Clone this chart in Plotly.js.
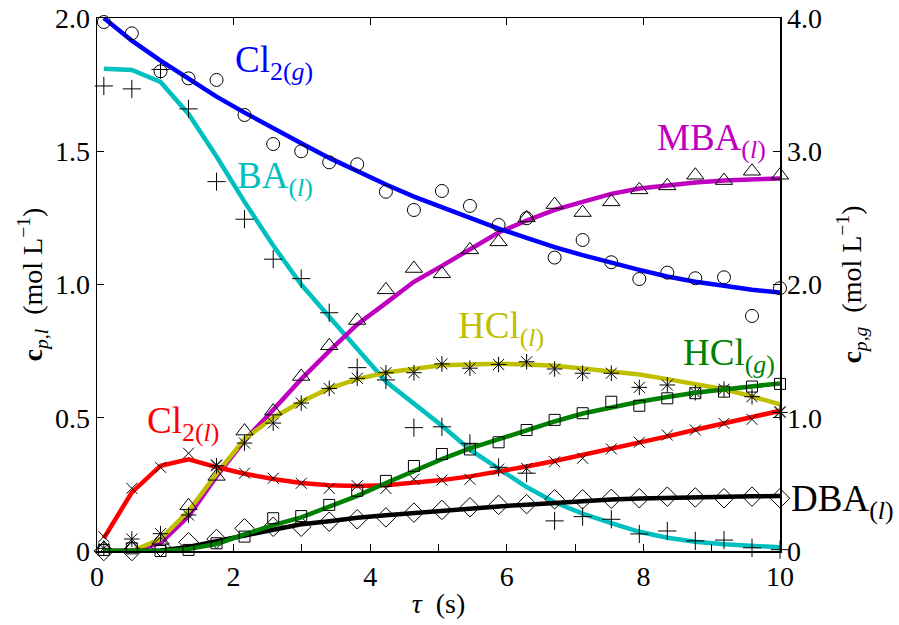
<!DOCTYPE html>
<html>
<head>
<meta charset="utf-8">
<script src="https://cdn.plot.ly/plotly-3.0.1.min.js"></script>
<style>html,body{margin:0;padding:0;background:#fff;}#chart{width:899px;height:625px;}</style>
</head>
<body>
<div id="chart"></div>
<script>
// residence time grid (s)
const tau = [0.10, 0.51, 0.93, 1.34, 1.75, 2.16, 2.58, 2.99, 3.40, 3.81, 4.23, 4.64, 5.05,
             5.46, 5.88, 6.29, 6.70, 7.11, 7.53, 7.94, 8.35, 8.76, 9.18, 9.59, 10.0];

// ---- model curves ----
// gas phase (right axis, mol/L)
const cl2g_model = [4.00, 3.83, 3.68, 3.54, 3.41, 3.29, 3.17, 3.06, 2.95, 2.85, 2.75, 2.66, 2.58,
                    2.50, 2.42, 2.35, 2.28, 2.22, 2.16, 2.11, 2.06, 2.02, 1.99, 1.96, 1.94];
const hclg_model = [0.00, 0.00, 0.00, 0.016, 0.052, 0.124, 0.194, 0.252, 0.334, 0.414, 0.51, 0.60, 0.69,
                    0.77, 0.84, 0.908, 0.972, 1.032, 1.08, 1.12, 1.156, 1.188, 1.212, 1.236, 1.258];
// liquid phase (left axis, mol/L)
const ba_model   = [1.81, 1.805, 1.76, 1.64, 1.48, 1.31, 1.146, 1.00, 0.879, 0.758, 0.636, 0.553, 0.47,
                    0.38, 0.31, 0.24, 0.183, 0.14, 0.105, 0.072, 0.05, 0.035, 0.025, 0.018, 0.014];
const mba_model  = [0.00, 0.00, 0.03, 0.13, 0.28, 0.415, 0.53, 0.645, 0.75, 0.85, 0.93, 1.01, 1.07,
                    1.13, 1.195, 1.24, 1.28, 1.31, 1.34, 1.36, 1.373, 1.383, 1.39, 1.395, 1.398];
const hcll_model = [0.00, 0.00, 0.045, 0.15, 0.29, 0.42, 0.50, 0.56, 0.61, 0.645, 0.67, 0.685, 0.697,
                    0.70, 0.703, 0.70, 0.695, 0.685, 0.675, 0.662, 0.645, 0.627, 0.607, 0.58, 0.55];
const cl2l_model = [0.048, 0.22, 0.32, 0.344, 0.315, 0.29, 0.27, 0.255, 0.247, 0.244, 0.247, 0.255, 0.266,
                    0.28, 0.297, 0.317, 0.338, 0.36, 0.382, 0.405, 0.43, 0.455, 0.478, 0.502, 0.526];
const dba_model  = [0.00, 0.00, 0.002, 0.015, 0.035, 0.058, 0.08, 0.10, 0.112, 0.125, 0.134, 0.143, 0.152,
                    0.16, 0.167, 0.174, 0.181, 0.188, 0.193, 0.197, 0.20, 0.203, 0.204, 0.205, 0.206];

// ---- data points ----
const cl2g_data = [3.97, 3.885, 3.60, 3.547, 3.535, 3.272, 3.054, 3.00, 2.917, 2.902, 2.696, 2.559, 2.702,
                   2.59, 2.447, 2.497, 2.202, 2.334, 2.167, 2.041, 2.089, 2.047, 2.054, 1.764, 1.972];
const hclg_data = [0.008, 0.02, 0.00, 0.008, 0.058, 0.108, 0.246, 0.262, 0.346, 0.452, 0.526, 0.638, 0.728,
                   0.762, 0.816, 0.908, 0.984, 1.034, 1.12, 1.09, 1.146, 1.184, 1.196, 1.234, 1.254];
const ba_data   = [1.745, 1.734, 1.807, 1.659, 1.386, 1.245, 1.095, 1.022, 0.894, 0.688, 0.642, 0.463, 0.466,
                   0.404, 0.314, 0.292, 0.113, 0.129, 0.119, 0.064, 0.075, 0.038, 0.041, 0.012, 0.005];
const mba_data  = [0.01, 0.01, 0.04, 0.17, 0.28, 0.45, 0.525, 0.655, 0.77, 0.865, 0.98, 1.06, 1.04,
                   1.13, 1.16, 1.25, 1.30, 1.27, 1.31, 1.355, 1.37, 1.41, 1.39, 1.425, 1.41];
const hcll_data = [0.01, 0.045, 0.065, 0.135, 0.32, 0.405, 0.48, 0.555, 0.61, 0.648, 0.669, 0.669, 0.702,
                   0.686, 0.70, 0.71, 0.683, 0.667, 0.667, 0.614, 0.623, 0.594, 0.607, 0.579, 0.52];
const cl2l_data = [0.054, 0.235, 0.314, 0.367, 0.323, 0.292, 0.273, 0.254, 0.235, 0.245, 0.235, 0.269, 0.266,
                   0.269, 0.307, 0.31, 0.335, 0.348, 0.383, 0.408, 0.435, 0.454, 0.479, 0.494, 0.523];
const dba_data  = [0.00, 0.00, 0.016, 0.033, 0.045, 0.085, 0.091, 0.091, 0.11, 0.119, 0.126, 0.144, 0.154,
                   0.164, 0.173, 0.176, 0.194, 0.194, 0.196, 0.198, 0.204, 0.201, 0.198, 0.204, 0.198];

// tick labels
const xTicks = [0, 2, 4, 6, 8, 10];
const xTickText = ['0', '2', '4', '6', '8', '10'];
const yLTicks = [0, 0.5, 1.0, 1.5, 2.0];
const yLTickText = ['0', '0.5', '1.0', '1.5', '2.0'];
const yRTicks = [0, 1, 2, 3, 4];
const yRTickText = ['0', '1.0', '2.0', '3.0', '4.0'];

const FONT = 'Liberation Serif, DejaVu Serif, serif';
const LW = 4.5;

function line(y, color, yaxis) {
  return {x: tau, y: y, mode: 'lines', line: {color: color, width: LW}, yaxis: yaxis || 'y',
          hoverinfo: 'skip', showlegend: false, cliponaxis: false};
}
function pts(y, symbol, size, yaxis) {
  return {x: tau, y: y, mode: 'markers', yaxis: yaxis || 'y', showlegend: false, cliponaxis: false,
          marker: {symbol: symbol, size: size, color: '#000', line: {color: '#000', width: 1}}};
}

const traces = [
  line(ba_model, '#00BFBF'),
  line(mba_model, '#BF00BF'),
  line(hcll_model, '#BFBF00'),
  line(cl2l_model, '#FF0000'),
  line(dba_model, '#000000'),
  pts(ba_data, 'cross-thin-open', 13),
  pts(mba_data, 'triangle-up-open', 15),
  pts(hcll_data, 'asterisk-open', 13),
  pts(cl2l_data, 'x-thin-open', 11),
  pts(dba_data, 'diamond-open', 15),
  line(cl2g_model, '#0000FF', 'y2'),
  line(hclg_model, '#008000', 'y2'),
  pts(cl2g_data, 'circle-open', 13, 'y2'),
  pts(hclg_data, 'square-open', 11, 'y2'),
  {x: [], y: [], xaxis: 'x2', yaxis: 'y', showlegend: false, hoverinfo: 'skip'}
];

// label placement helpers (pixel -> paper)
const L = 97, R = 780, T = 18, B = 551;
function px(xp) { return (xp - L) / (R - L); }
function py(yp) { return (B - yp) / (B - T); }
function lab(text, xp, yp, color) {
  return {text: text, xref: 'paper', yref: 'paper', x: px(xp), y: py(yp), xanchor: 'left', yanchor: 'middle',
          showarrow: false, font: {family: FONT, size: 37, color: color}};
}

const annotations = [
  lab('Cl<sub>2(<i>g</i>)</sub>', 233, 62, '#0000FF'),
  lab('BA<sub>(<i>l</i>)</sub>', 235, 179, '#00BFBF'),
  lab('MBA<sub>(<i>l</i>)</sub>', 655, 140, '#BF00BF'),
  lab('HCl<sub>(<i>l</i>)</sub>', 456, 328, '#BFBF00'),
  lab('HCl<sub>(<i>g</i>)</sub>', 681, 355, '#008000'),
  lab('Cl<sub>2(<i>l</i>)</sub>', 145, 424, '#FF0000'),
  lab('DBA<sub>(<i>l</i>)</sub>', 789, 501, '#000000')
];

const layout = {
  width: 899, height: 625,
  margin: {l: L, r: 899 - R, t: T, b: 625 - B, pad: 0},
  paper_bgcolor: '#fff', plot_bgcolor: '#fff',
  font: {family: FONT, size: 28, color: '#000'},
  showlegend: false,
  xaxis: {
    range: [0, 10], tickvals: xTicks, ticktext: xTickText, ticks: 'inside', ticklen: 7, tickwidth: 1,
    tickcolor: '#000', showline: true, linecolor: '#000', linewidth: 1.5, mirror: 'ticks',
    showgrid: false, zeroline: false, tickfont: {family: FONT, size: 28},
    title: {text: '<i>τ</i>  (s)', font: {family: FONT, size: 28}, standoff: 2}
  },
  xaxis2: {
    range: [0, 10], overlaying: 'x', anchor: 'y', side: 'bottom', dtick: 1, tick0: 0,
    ticks: 'inside', ticklen: 7, tickwidth: 1, tickcolor: '#000', showticklabels: false,
    showgrid: false, zeroline: false, showline: false
  },
  yaxis: {
    range: [0, 2], tickvals: yLTicks, ticktext: yLTickText, ticks: 'inside', ticklen: 7, tickwidth: 1,
    tickcolor: '#000', showline: true, linecolor: '#000', linewidth: 1.5, mirror: false,
    showgrid: false, zeroline: false, tickfont: {family: FONT, size: 28},
    title: {text: '<b>c</b><sub><i>p,l</i></sub>  (mol L<sup>−1</sup>)', font: {family: FONT, size: 28}, standoff: 4}
  },
  yaxis2: {
    range: [0, 4], overlaying: 'y', side: 'right', anchor: 'x', tickvals: yRTicks, ticktext: yRTickText,
    ticks: 'inside', ticklen: 7, tickwidth: 1, tickcolor: '#000', showline: true, linecolor: '#000',
    linewidth: 1.5, showgrid: false, zeroline: false, tickfont: {family: FONT, size: 28},
    title: {text: '<b>c</b><sub><i>p,g</i></sub>  (mol L<sup>−1</sup>)', font: {family: FONT, size: 28}, standoff: 20}
  },
  annotations: annotations
};

Plotly.newPlot('chart', traces, layout, {staticPlot: true, displayModeBar: false});
</script>
</body>
</html>
